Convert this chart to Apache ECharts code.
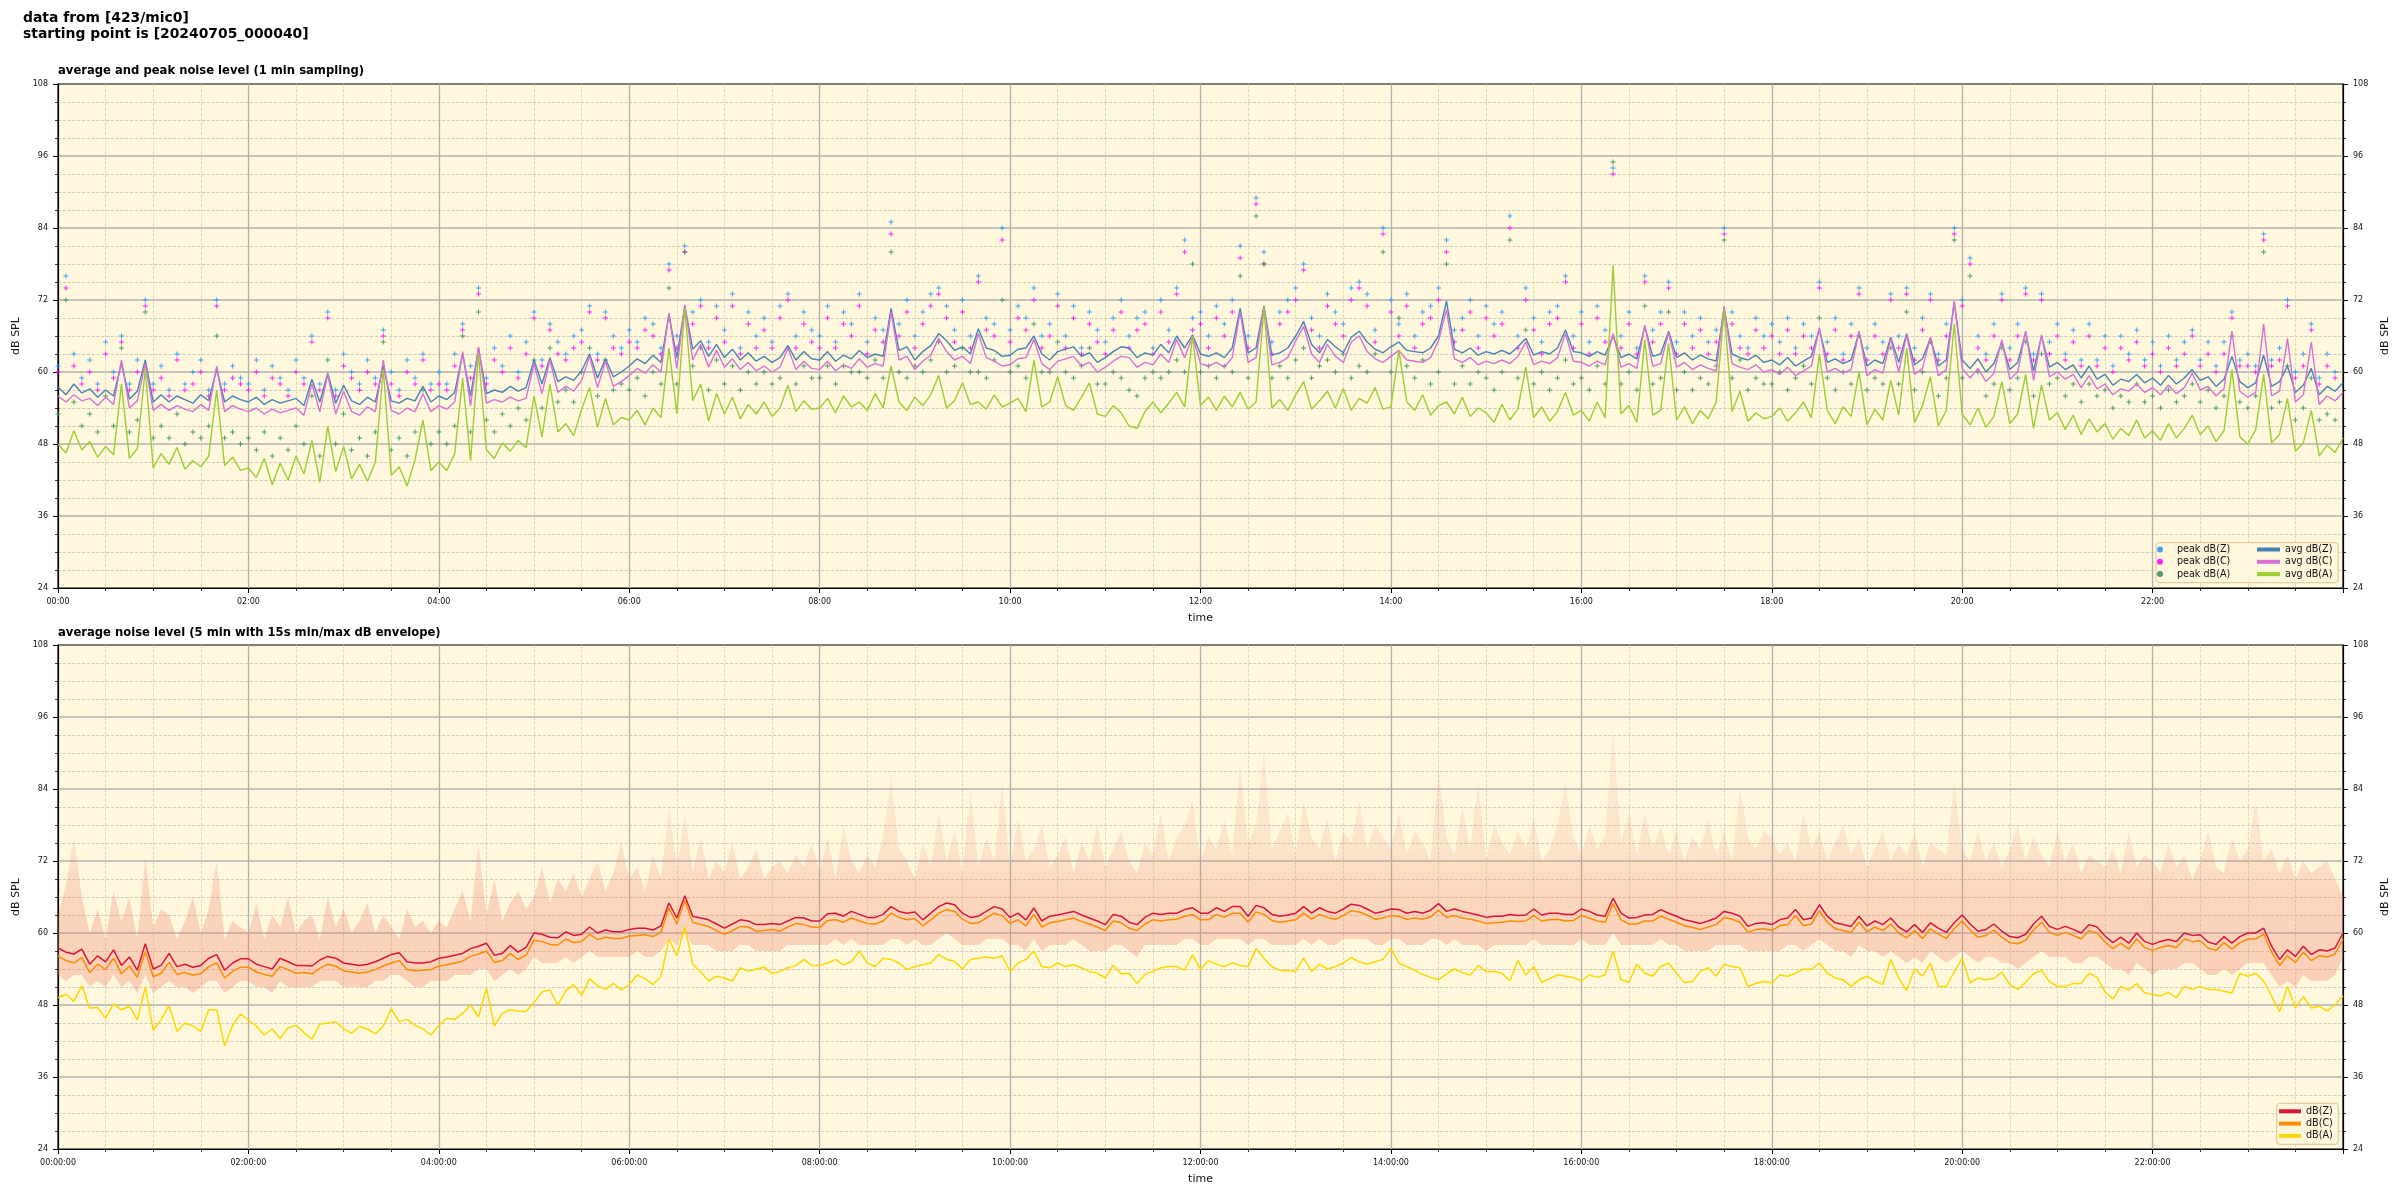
<!DOCTYPE html>
<html><head><meta charset="utf-8">
<script src="https://cdn.jsdelivr.net/npm/echarts/dist/echarts.min.js"></script>
<style>html,body{margin:0;padding:0;background:#fff}#c{width:2400px;height:1200px}</style>
</head><body><div id="c"></div><script>
// ---------- labels ----------
const STEP = 5; // minutes between samples
const topTimeLabels = ['00:00','02:00','04:00','06:00','08:00','10:00','12:00','14:00','16:00','18:00','20:00','22:00'];
const botTimeLabels = ['00:00:00','02:00:00','04:00:00','06:00:00','08:00:00','10:00:00','12:00:00','14:00:00','16:00:00','18:00:00','20:00:00','22:00:00'];
const yTicks = [24,36,48,60,72,84,96,108];

// ---------- top chart: 1-min average (sampled every 5 min) ----------
const avgZ = [
57.5,56.2,58.0,56.5,57.2,55.8,57.0,56.0,61.5,55.5,56.8,62.0,55.0,56.2,55.0,56.0,55.4,54.8,56.2,55.2,60.5,55.0,56.0,55.4,
55.0,55.8,54.6,55.4,54.8,55.2,55.6,54.4,58.8,55.0,59.8,54.8,57.8,55.2,54.6,55.8,55.0,61.0,55.2,54.8,55.6,55.2,57.6,55.0,
56.0,55.4,56.6,63.0,56.0,64.0,56.4,57.0,56.6,57.6,56.8,57.4,62.0,58.0,62.4,58.4,59.2,58.6,60.2,63.0,59.0,62.2,59.2,60.0,
61.0,62.2,61.4,62.8,61.6,69.6,62.4,71.0,63.8,65.2,62.6,64.6,62.4,63.8,62.0,63.2,61.8,62.6,61.6,62.4,64.4,62.0,63.4,62.2,
62.0,63.4,61.8,62.8,62.2,63.6,62.4,63.0,62.6,70.6,63.6,64.2,62.0,63.4,64.4,66.4,65.2,63.6,64.2,63.0,67.2,64.0,63.6,62.6,
62.8,63.8,64.0,66.0,63.0,62.0,63.4,63.8,64.2,62.6,63.2,61.6,62.4,63.4,64.2,64.0,62.4,63.2,62.8,64.6,63.2,66.0,64.0,66.2,
63.0,62.6,63.2,62.4,64.0,70.6,63.2,64.0,71.0,62.8,63.2,64.0,66.0,68.4,64.6,63.2,65.4,64.2,63.2,65.8,66.8,65.0,63.8,63.2,
64.2,65.0,63.6,63.4,63.2,64.0,66.0,71.8,63.8,63.2,64.0,62.8,63.4,63.0,63.6,63.0,64.2,65.6,62.8,63.4,63.0,64.0,67.0,63.4,
63.2,62.6,63.4,62.8,66.0,62.4,63.0,62.2,67.6,62.6,63.0,66.8,62.4,63.2,62.0,62.8,62.2,61.8,70.6,63.0,62.4,62.0,62.8,61.6,
62.0,61.2,62.4,61.0,61.8,62.6,67.2,61.6,62.2,61.4,62.0,66.6,61.0,62.0,61.4,65.8,61.6,66.4,61.2,62.2,65.6,61.0,62.0,71.6,
62.0,60.6,62.2,60.0,61.4,65.0,60.4,61.6,66.6,60.2,66.0,60.8,61.6,60.4,61.2,59.0,61.0,58.8,59.6,57.8,58.8,58.4,59.6,58.2,
59.0,57.8,59.4,58.0,59.0,60.4,58.6,59.2,57.6,58.8,62.6,58.4,57.4,58.2,62.8,57.6,58.4,61.0,56.6,57.8,60.6,56.2,57.6,56.8,58.2];
const avgC = [
56.0,55.0,56.2,55.2,55.6,54.4,55.8,54.6,62.0,54.0,55.2,61.4,53.6,54.6,53.6,54.4,53.8,53.4,54.6,53.6,61.0,53.4,54.4,53.8,
53.4,54.0,53.0,53.8,53.2,53.6,54.0,52.8,58.0,53.4,59.6,53.0,56.8,53.4,52.8,54.2,53.4,62.0,53.6,53.0,54.0,53.4,56.4,53.4,
54.4,53.8,55.0,63.4,54.4,64.2,54.8,55.4,55.0,55.8,55.2,55.6,61.4,56.4,62.0,56.6,57.6,56.8,58.6,62.6,57.4,61.8,57.6,58.4,
59.4,60.6,59.8,61.2,60.0,69.8,60.6,71.2,62.0,64.6,60.8,63.6,60.8,62.2,60.4,61.6,60.2,61.0,60.0,60.8,64.0,60.4,61.8,60.6,
60.4,61.8,60.2,61.2,60.6,62.2,60.8,61.4,61.0,70.0,62.0,62.6,60.4,61.8,62.8,65.6,63.4,62.0,62.6,61.4,66.4,62.4,61.8,61.0,
61.2,62.2,62.4,65.4,61.4,60.4,61.8,62.2,62.6,61.0,61.6,60.0,60.8,61.8,62.6,62.4,60.8,61.6,61.2,63.0,61.6,65.4,62.4,66.0,
61.4,61.0,61.6,60.8,62.4,70.0,61.6,62.4,70.8,61.2,61.6,62.4,65.2,67.6,63.0,61.6,64.6,62.6,61.6,65.0,66.0,63.4,62.2,61.6,
62.6,63.6,62.0,61.8,61.6,62.4,65.2,70.4,62.2,61.6,62.4,61.2,61.8,61.4,62.0,61.4,62.6,65.0,61.2,61.8,61.4,62.4,66.4,61.8,
61.6,61.0,61.8,61.2,66.4,60.8,61.4,60.6,67.8,61.0,61.4,66.6,60.8,61.6,60.4,61.2,60.6,60.2,71.0,61.4,60.8,60.4,61.2,60.0,
60.4,59.6,60.8,59.4,60.2,61.0,67.4,60.0,60.6,59.8,60.4,66.8,59.4,60.4,59.8,65.6,60.0,66.2,59.6,60.6,65.8,59.4,60.4,71.8,
60.6,59.0,60.6,58.4,59.8,65.4,58.8,60.0,66.8,58.6,66.2,59.2,60.0,58.8,59.6,57.4,59.4,57.2,58.0,56.2,57.2,56.8,58.0,56.6,
57.4,56.2,57.8,56.4,57.4,59.8,57.0,57.6,56.0,57.2,66.8,56.8,55.8,56.6,68.0,56.0,56.8,65.6,55.0,56.2,65.0,54.6,56.0,55.2,56.6];
const avgA = [
48.0,46.5,50.2,47.0,48.4,45.8,47.6,46.2,58.0,45.6,47.2,60.5,44.0,46.4,44.6,47.4,43.8,45.2,44.2,46.0,57.0,44.4,45.8,43.6,
44.0,42.4,45.6,41.2,44.8,42.0,46.0,43.0,48.6,41.6,51.0,43.4,47.6,42.2,44.6,41.8,45.0,60.5,42.8,44.2,41.0,45.4,52.0,43.6,
45.0,43.6,46.4,59.0,45.2,63.0,47.0,45.6,48.2,46.8,48.6,47.4,56.0,49.2,58.0,50.0,51.4,49.4,53.8,57.4,50.8,55.6,51.2,52.4,
52.0,53.6,51.2,54.0,52.4,64.0,53.0,70.6,55.2,58.0,51.8,56.4,53.0,55.8,52.2,54.6,53.0,55.0,52.6,54.0,57.8,53.4,55.2,53.8,
54.0,55.6,53.2,56.0,54.2,55.0,53.6,56.4,54.0,61.0,55.0,53.6,55.8,54.4,56.2,59.4,54.0,55.2,58.2,54.6,55.0,53.8,56.2,54.2,
54.8,55.6,53.4,62.0,54.2,55.0,59.2,54.4,53.6,55.8,58.2,53.0,52.6,54.4,53.2,51.0,50.6,53.4,55.0,53.2,54.8,56.6,54.2,66.0,
54.4,55.8,53.6,56.0,54.2,56.6,53.8,55.0,70.6,54.0,55.4,53.6,56.2,58.4,53.8,55.2,56.8,54.0,57.2,53.6,55.6,54.8,57.4,53.8,
54.2,63.6,55.0,53.6,56.2,52.8,54.4,55.0,53.0,55.8,52.6,54.0,53.2,51.6,54.6,52.0,53.8,60.8,52.4,54.2,51.8,53.4,56.6,52.8,
53.6,51.8,55.0,52.4,77.8,53.0,54.4,51.6,65.4,52.8,53.6,64.8,52.0,54.2,51.4,53.6,52.2,55.0,70.4,53.4,56.8,51.8,53.2,52.2,
52.6,54.0,51.8,53.2,55.0,52.4,63.0,53.6,51.4,54.2,52.6,60.0,51.2,53.8,52.0,58.6,52.8,64.0,51.6,54.4,59.2,51.0,53.6,68.0,
53.0,51.2,54.0,50.8,52.6,58.4,51.4,53.0,59.6,50.6,57.8,52.0,53.2,50.4,52.8,49.6,52.2,50.0,51.4,48.8,50.6,49.4,52.0,49.0,
50.2,48.6,51.4,49.0,50.6,52.8,49.6,51.0,48.4,50.2,60.4,49.2,48.0,50.4,59.6,48.2,49.6,55.6,46.8,48.2,53.6,46.0,47.8,46.6,49.0];

// ---------- top chart: peak levels ----------
const peakZ = [
61,76,63,59,62,58,65,60,66,58,62,72,58,61,57,63,58,60,62,57,72,58,61,59,
58,62,57,61,59,57,62,59,66,58,70,57,63,60,58,62,59,67,60,57,62,59,63,58,
60,58,63,68,61,74,59,64,61,66,60,65,70,62,68,65,63,66,67,71,63,70,66,64,
67,65,69,68,64,78,66,81,70,72,65,71,67,73,64,70,66,69,65,71,73,66,70,67,
66,71,65,70,68,73,65,69,67,85,68,72,66,70,73,74,71,67,72,66,76,69,68,84,
67,71,69,74,66,68,73,66,71,64,70,67,65,69,72,66,69,70,64,72,67,74,82,69,
70,66,71,68,72,81,66,89,80,65,70,72,74,78,69,66,73,70,68,74,75,73,67,84,
72,68,73,66,70,71,74,82,67,69,72,66,71,68,70,86,66,74,69,65,70,71,76,66,
70,65,71,67,94,66,70,64,76,67,70,75,65,70,66,69,65,67,84,70,66,64,69,66,
68,65,69,64,68,66,75,65,69,63,68,74,64,68,65,73,66,74,64,69,73,63,68,84,
72,79,66,63,68,73,64,68,74,63,73,65,68,63,67,62,68,62,66,61,66,63,67,62,
65,61,66,62,65,67,62,65,61,65,70,62,63,61,83,62,64,72,60,63,68,59,63,60];
const peakC = [
60,74,61,58,60,57,63,59,65,57,60,71,57,59,56,62,57,58,60,56,71,57,59,58,
57,60,56,59,58,56,60,58,65,57,69,56,61,59,57,60,58,66,58,56,60,58,62,57,
58,57,61,67,59,73,58,62,60,64,59,63,69,61,67,63,62,64,65,70,62,69,64,63,
65,64,67,66,63,77,64,80,68,71,64,69,65,71,63,68,64,67,64,69,72,64,68,65,
64,69,64,68,66,71,63,67,65,83,66,70,64,68,71,73,69,65,70,64,75,67,66,82,
65,69,67,72,64,66,71,64,69,63,68,65,63,67,70,64,67,68,63,70,65,73,80,67,
68,64,69,66,70,79,64,88,78,63,68,70,72,77,67,64,71,68,66,72,74,71,65,83,
70,66,71,64,68,69,72,80,65,67,70,64,69,66,68,84,64,72,67,63,68,69,75,64,
68,63,69,65,93,64,68,63,75,65,68,74,63,68,64,67,63,65,83,68,64,63,67,64,
66,63,67,63,66,64,74,63,67,62,66,73,62,66,63,72,64,73,62,67,72,62,66,83,
71,78,64,62,66,72,62,66,73,62,72,63,66,62,65,61,66,61,64,60,64,62,65,61,
63,60,64,61,63,66,61,63,60,63,69,61,61,60,82,61,62,71,59,61,67,58,61,59];
const peakA = [
53,72,55,51,53,50,56,51,64,50,52,70,49,51,49,53,48,50,49,51,66,49,50,48,
49,47,50,46,49,47,51,48,56,46,62,48,53,47,49,46,50,65,47,49,46,50,57,48,
50,48,51,66,50,70,52,50,53,51,54,52,62,54,64,55,57,55,60,64,56,62,57,58,
57,59,56,60,58,74,58,80,61,64,57,62,58,61,57,60,58,60,58,59,64,58,61,59,
59,61,58,61,60,60,59,62,59,80,60,59,61,60,62,65,60,61,64,60,60,59,62,72,
60,61,59,68,60,60,65,60,59,61,64,58,58,60,59,57,56,59,60,59,60,62,60,78,
60,61,59,61,60,76,59,86,78,59,61,59,62,64,59,61,62,60,63,59,61,60,63,80,
60,69,61,59,62,58,60,78,58,61,58,60,59,57,60,82,59,67,58,60,57,59,62,58,
59,57,61,58,95,58,60,57,71,58,59,70,57,60,57,59,58,61,82,59,62,57,59,58,
58,60,57,59,61,58,69,59,57,60,58,66,57,59,58,64,58,70,57,60,65,56,59,82,
59,76,60,56,58,64,57,59,65,56,63,58,59,56,58,55,58,56,57,54,56,55,58,55,
56,54,57,55,56,58,55,57,54,56,66,55,54,56,80,54,55,61,52,54,59,52,53,52];

// ---------- bottom chart: 5-min averages ----------
const lvlZ = [
57.5,56.8,56.5,57.3,54.8,56.2,55.2,57.2,54.6,56.0,53.8,58.2,54.0,54.6,56.6,54.4,54.8,54.3,54.6,55.8,56.4,53.8,55.0,55.7,
55.7,54.8,54.4,54.0,55.8,55.2,54.6,54.6,54.5,55.5,56.1,55.8,55.0,54.8,54.6,54.8,55.2,55.8,56.4,56.7,55.2,55.0,55.0,55.2,
55.8,56.0,56.3,56.6,57.4,57.8,58.3,56.3,56.6,57.9,56.8,57.6,60.0,59.8,59.3,59.2,60.2,59.6,59.8,61.0,60.0,60.5,60.2,60.2,
60.6,60.8,60.8,60.5,61.2,65.0,62.5,66.2,62.8,62.5,62.2,61.5,60.8,61.5,62.2,62.0,61.4,61.4,61.6,61.4,62.0,62.6,62.5,62.0,
62.0,63.2,63.3,62.8,63.6,63.1,62.6,62.6,63.1,64.4,63.6,63.3,63.5,62.2,63.3,64.4,65.0,64.7,63.3,62.6,62.8,63.6,64.4,64.0,
62.6,63.3,62.2,64.2,62.0,62.8,63.0,63.3,63.6,63.0,62.5,62.0,61.4,63.1,62.8,61.8,61.4,62.6,63.3,63.1,63.3,63.3,63.9,64.2,
63.3,63.3,64.2,63.6,64.4,64.4,62.8,64.6,64.2,63.1,62.8,63.0,63.3,64.4,63.3,64.2,63.6,63.3,64.0,64.8,64.6,64.0,63.3,63.6,
64.0,63.9,63.3,63.6,63.3,63.8,64.9,63.6,64.0,63.6,63.3,63.0,62.6,62.8,62.8,63.1,62.9,63.0,64.0,63.0,63.3,63.3,63.1,63.1,
64.0,63.6,63.0,62.8,65.8,63.3,62.5,62.6,63.0,63.1,63.9,63.3,62.8,62.2,61.9,61.6,62.0,62.5,63.6,63.3,62.8,61.1,61.6,61.7,
61.4,62.2,62.5,63.9,62.2,62.5,64.7,62.8,61.7,61.4,61.1,62.8,61.2,62.0,61.4,62.5,61.0,60.2,61.4,60.1,61.7,60.8,60.1,61.7,
63.0,61.5,60.3,60.6,61.5,60.3,59.4,59.2,59.8,61.5,62.8,61.1,60.6,61.1,60.6,60.0,61.4,61.0,59.5,58.4,59.3,58.3,60.0,58.6,
58.1,58.6,58.9,58.6,60.0,59.6,59.7,58.5,58.1,59.4,58.3,59.4,60.0,60.0,60.8,57.8,55.6,57.2,56.1,57.8,56.4,57.2,57.0,57.5,60.0];
const lvlC = [
56.2,55.4,55.0,55.9,53.4,54.8,53.9,55.8,53.2,54.5,52.6,56.9,52.7,53.3,55.1,53.1,53.4,53.0,53.2,54.4,55.0,52.5,53.6,54.3,
54.3,53.5,53.1,52.8,54.4,53.9,53.3,53.4,53.2,54.1,54.8,54.5,53.7,53.5,53.3,53.5,53.9,54.5,55.0,55.4,53.9,53.7,53.8,53.9,
54.5,54.7,55.0,55.3,56.1,56.5,57.0,55.1,55.4,56.6,55.6,56.3,58.8,58.6,58.1,58.0,59.0,58.4,58.6,59.8,58.9,59.3,59.1,59.1,
59.5,59.6,59.7,59.4,60.1,64.2,61.5,65.4,61.8,61.4,61.1,60.4,59.8,60.4,61.1,61.0,60.3,60.4,60.6,60.3,61.0,61.6,61.4,61.0,
60.9,62.1,62.2,61.8,62.5,62.0,61.6,61.5,62.0,63.3,62.6,62.2,62.4,61.2,62.2,63.3,63.9,63.6,62.3,61.6,61.7,62.5,63.3,62.9,
61.6,62.2,61.2,63.1,61.0,61.7,61.9,62.2,62.5,61.9,61.5,61.0,60.4,62.0,61.7,60.8,60.4,61.5,62.2,62.0,62.2,62.3,62.8,63.1,
62.2,62.2,63.1,62.6,63.3,63.3,61.8,63.5,63.1,62.1,61.8,62.0,62.2,63.3,62.3,63.1,62.6,62.3,62.9,63.7,63.5,63.0,62.3,62.5,
62.9,62.8,62.3,62.5,62.3,62.7,63.8,62.6,62.9,62.5,62.3,62.0,61.6,61.7,61.8,62.0,61.9,62.0,62.9,62.0,62.2,62.3,62.0,62.1,
62.9,62.5,62.0,61.8,64.9,62.2,61.5,61.5,62.0,62.0,62.8,62.3,61.8,61.2,60.9,60.6,61.0,61.4,62.6,62.3,61.8,60.1,60.6,60.7,
60.4,61.2,61.4,62.9,61.2,61.5,63.7,61.8,60.7,60.4,60.1,61.8,60.2,61.0,60.4,61.5,60.0,59.2,60.4,59.1,60.7,59.8,59.1,60.7,
62.0,60.5,59.3,59.6,60.5,59.3,58.4,58.2,58.8,60.5,61.8,60.1,59.6,60.1,59.6,59.0,60.4,60.0,58.5,57.4,58.3,57.3,59.0,57.6,
57.1,57.6,57.9,57.6,59.0,58.6,58.7,57.5,57.1,58.4,57.3,58.4,59.0,59.0,59.8,56.8,54.6,56.2,55.1,56.8,55.4,56.2,56.0,56.5,59.0];
const lvlA = [
49.2,49.8,48.6,51.2,47.5,47.6,45.8,48.2,47.2,47.8,45.5,51.0,43.8,45.6,47.9,43.6,45.0,44.5,43.6,47.2,47.2,41.2,44.6,46.5,
45.5,44.5,43.0,44.0,42.4,44.2,44.6,43.4,42.3,44.8,45.0,45.2,44.0,43.3,44.4,44.0,43.2,44.5,47.4,45.2,45.6,44.6,44.0,43.0,
44.6,45.8,45.6,46.6,48.0,46.0,50.8,44.5,46.6,47.2,47.0,46.9,48.4,50.2,50.5,48.0,50.4,51.4,49.6,52.4,51.2,50.6,51.6,50.5,
51.4,53.0,52.4,51.4,52.8,59.0,56.2,61.0,54.8,53.5,52.0,52.8,52.5,52.0,54.2,53.6,54.0,54.3,53.2,53.6,54.2,54.6,55.6,54.6,
54.6,55.0,55.6,54.7,55.2,57.0,55.0,54.4,55.8,55.6,55.0,53.9,54.4,54.7,55.0,56.4,55.6,55.3,54.0,55.6,55.8,56.0,55.8,56.2,
53.6,55.0,55.6,57.0,54.4,54.2,55.0,54.4,54.7,54.2,53.6,53.3,52.5,54.6,53.2,53.3,51.6,53.1,53.6,54.2,54.4,54.4,53.8,56.4,
53.9,55.4,54.8,54.4,55.0,54.6,54.4,57.4,55.8,54.4,53.8,53.7,53.6,55.8,53.6,54.8,54.0,54.4,55.0,55.9,55.2,54.8,55.2,55.6,
57.4,55.0,54.4,53.8,53.1,52.6,52.2,53.2,54.0,53.4,53.0,54.6,53.6,53.6,53.3,52.0,55.4,53.0,54.4,51.8,52.4,53.0,52.8,52.6,
52.0,53.0,52.6,53.0,57.0,52.2,51.8,54.8,53.3,52.8,54.4,55.0,53.3,51.7,51.9,53.6,54.2,52.8,54.8,54.4,54.2,51.1,51.6,51.9,
51.7,53.0,52.8,53.3,54.0,53.9,55.0,53.3,52.5,52.2,51.1,52.2,52.8,52.0,51.4,55.6,52.5,50.4,54.0,52.8,55.0,51.1,51.1,53.5,
55.8,51.7,52.5,52.2,52.4,53.5,51.4,50.6,51.8,53.2,53.8,51.9,51.1,51.1,51.6,51.6,53.3,52.6,50.2,49.0,51.1,50.5,51.6,50.0,
49.8,49.5,50.1,49.2,51.1,50.6,51.1,50.6,50.6,50.3,50.0,53.3,52.8,53.3,52.0,49.5,46.9,51.1,47.5,49.4,47.5,47.8,47.0,48.0,49.5];

// ---------- bottom chart: 15 s min/max envelope ----------
const envMin = [
53,52,53,53,51,52,51,53,51,52,50,53,50,51,52,51,51,50,51,52,52,50,51,52,
52,51,51,50,52,51,51,51,51,52,52,52,51,51,51,51,52,52,53,53,52,51,51,52,
52,52,53,53,53,54,54,52,53,54,53,54,56,55,55,55,56,55,56,57,56,56,56,56,
56,57,56,56,57,59,58,60,58,58,58,57,57,57,58,58,57,57,57,57,58,58,58,58,
58,58,59,58,59,58,58,58,58,59,59,58,59,58,58,59,60,59,58,58,58,59,59,59,
58,58,57,59,57,58,58,58,59,58,57,57,57,58,58,57,56,58,58,58,58,58,59,59,
58,58,59,59,59,59,58,59,59,58,58,58,58,59,58,59,58,58,59,59,59,59,58,58,
59,59,58,58,58,59,59,58,59,58,58,58,57,58,58,58,58,58,59,58,58,58,58,58,
59,58,58,58,60,58,58,58,58,58,59,58,58,57,57,57,57,58,58,58,58,57,57,57,
57,57,58,58,57,58,59,58,57,57,56,58,57,57,56,57,56,55,56,55,57,56,55,56,
57,56,55,56,56,55,55,54,55,56,57,56,56,56,55,55,56,56,55,54,54,53,55,54,
53,54,54,54,55,55,54,53,53,54,53,54,55,55,55,53,51,52,51,53,52,52,52,53,56];
const envMax = [
63,68,76,66,60,64,59,67,62,66,59,73,61,64,63,59,62,66,60,64,72,59,62,61,
60,65,59,63,61,66,60,62,63,59,66,61,64,60,62,65,60,63,61,59,64,61,62,60,
62,61,64,67,62,75,63,69,62,65,67,64,66,71,65,69,67,70,66,69,72,67,70,75,
69,71,67,73,69,81,71,80,70,76,69,72,70,75,69,71,74,69,71,72,70,73,71,75,
70,76,69,78,72,70,73,71,76,86,74,72,69,75,71,80,72,77,70,84,71,76,72,85,
71,79,72,74,78,71,73,76,70,75,72,78,71,74,77,72,70,75,73,80,72,76,78,82,
72,76,74,79,73,88,75,78,90,74,77,80,73,82,76,74,79,72,77,75,82,74,78,76,
74,80,73,77,75,72,87,76,73,81,74,85,72,78,75,73,77,74,79,72,74,78,85,76,
73,78,74,76,94,75,80,73,80,74,78,73,77,72,76,74,79,73,77,72,84,76,74,77,
76,73,75,72,80,74,77,72,75,78,73,76,71,74,77,72,75,73,77,71,75,74,73,85,
74,72,77,72,75,71,74,78,72,76,73,71,77,72,75,70,73,72,71,74,70,77,71,73,
72,70,75,71,73,69,72,77,71,70,76,72,74,82,72,74,70,73,69,72,70,71,72,69,66];

// ---------- build ----------
function pts(a){ return a.map((v,i)=>[i*STEP, v]); }
const FONT = 'DejaVu Sans';
const PLUS = 'path://M2,0H3V2H5V3H3V5H2V3H0V2H2Z';
const TXT = '#111';

function xAxis(gi, labels){
  return {type:'value', gridIndex:gi, min:0, max:1440, interval:120,
    axisLine:{show:true, lineStyle:{color:'#000', width:1.2}},
    axisTick:{show:true, length:5, lineStyle:{color:'#000', width:1}},
    minorTick:{show:true, splitNumber:4, length:3, lineStyle:{color:'#000', width:0.8}},
    axisLabel:{margin:10, fontSize:8, color:TXT, fontFamily:FONT,
      formatter:v=>labels[Math.round(v/120)]||''},
    splitLine:{show:true, showMinLine:false, showMaxLine:false, lineStyle:{color:'#b0b0b0', width:1.3}},
    minorSplitLine:{show:true, lineStyle:{color:'#d6cfb8', width:0.8, type:'dashed'}},
    name:'time', nameLocation:'middle', nameGap:25,
    nameTextStyle:{fontSize:11, color:TXT, fontFamily:FONT}};
}
function yAxis(gi, side){
  const left = side==='left';
  return {type:'value', gridIndex:gi, position:side, min:yTicks[0], max:yTicks[yTicks.length-1], interval:12,
    axisLine:{show:true, lineStyle:{color:'#000', width:1.2}},
    axisTick:{show:true, length:5, lineStyle:{color:'#000', width:1}},
    minorTick:{show:true, splitNumber:4, length:3, lineStyle:{color:'#000', width:0.8}},
    axisLabel:{margin:10, fontSize:8, color:TXT, fontFamily:FONT},
    splitLine:{show:left, showMinLine:false, showMaxLine:false, lineStyle:{color:'#b0b0b0', width:1.5}},
    minorSplitLine:{show:left, lineStyle:{color:'#c2c0b8', width:0.8, type:'dashed'}},
    name:'dB SPL', nameLocation:'middle', nameRotate:90, nameGap:left?31:30,
    nameTextStyle:{fontSize:11, color:TXT, fontFamily:FONT}};
}
const gridBase = {show:true, backgroundColor:'#fff8dc', borderColor:'#000', borderWidth:1.2,
  left:58, width:2285, height:504, containLabel:false, outerBoundsMode:'none'};

const legText = {fontSize:9.6, lineHeight:12, color:TXT, fontFamily:FONT};
const envFill = new echarts.graphic.LinearGradient(0, 0, 0, 1, [
  {offset:0, color:'rgba(240,125,105,0.10)'},
  {offset:0.45, color:'rgba(240,125,105,0.16)'},
  {offset:0.62, color:'rgba(240,125,105,0.27)'},
  {offset:1, color:'rgba(240,125,105,0.33)'}]);

// envelope band drawn as one polygon through the axis scales
function renderEnvelope(params, api){
  if (params.dataIndex !== 0) return null;
  const upper = envMax.map((v,i)=>api.coord([i*STEP, v]));
  const lower = envMin.map((v,i)=>api.coord([i*STEP, v])).reverse();
  return {type:'polygon', shape:{points:upper.concat(lower)}, style:{fill:envFill}, silent:true};
}

const option = {
  animation:false,
  backgroundColor:'#ffffff',
  title:[
    {text:'data from [423/mic0]\nstarting point is [20240705_000040]', left:23, top:10, padding:0,
     textStyle:{fontSize:13.9, fontWeight:'bold', lineHeight:16.5, color:'#000', fontFamily:FONT}},
    {text:'average and peak noise level (1 min sampling)', left:58, top:63.7, padding:0,
     textStyle:{fontSize:11.6, fontWeight:'bold', lineHeight:14, color:'#000', fontFamily:FONT}},
    {text:'average noise level (5 min with 15s min/max dB envelope)', left:58, top:626.3, padding:0,
     textStyle:{fontSize:11.6, fontWeight:'bold', lineHeight:14, color:'#000', fontFamily:FONT}}
  ],
  grid:[Object.assign({top:84}, gridBase), Object.assign({top:645}, gridBase)],
  xAxis:[xAxis(0, topTimeLabels), xAxis(1, botTimeLabels)],
  yAxis:[yAxis(0,'left'), yAxis(0,'right'), yAxis(1,'left'), yAxis(1,'right')],
  legend:[
    {data:[{name:'peak dB(Z)',icon:'circle'},{name:'peak dB(C)',icon:'circle'},{name:'peak dB(A)',icon:'circle'}],
     orient:'vertical', left:2157, top:543.5, itemWidth:24, itemHeight:6, itemGap:0.3, padding:0,
     textStyle:legText, selectedMode:false, z:20},
    {data:[{name:'avg dB(Z)',icon:'rect'},{name:'avg dB(C)',icon:'rect'},{name:'avg dB(A)',icon:'rect'}],
     orient:'vertical', left:2257, top:543.5, itemWidth:23, itemHeight:4, itemGap:0.3, padding:0,
     textStyle:legText, selectedMode:false, z:20},
    {data:[{name:'dB(Z)',icon:'rect'},{name:'dB(C)',icon:'rect'},{name:'dB(A)',icon:'rect'}],
     orient:'vertical', left:2279, top:1105.3, itemWidth:22, itemHeight:4, itemGap:0.3, padding:0,
     textStyle:legText, selectedMode:false, z:20}
  ],
  graphic:[
    {type:'rect', z:15, shape:{x:2156, y:542.7, width:182, height:40, r:3},
     style:{fill:'rgba(255,248,220,0.85)', stroke:'#dcc49a', lineWidth:1}},
    {type:'rect', z:15, shape:{x:2276.7, y:1103.3, width:61.6, height:41, r:3},
     style:{fill:'rgba(255,248,220,0.85)', stroke:'#dcc49a', lineWidth:1}}
  ],
  series:[
    {name:'peak dB(Z)', type:'scatter', xAxisIndex:0, yAxisIndex:0, data:pts(peakZ), symbol:PLUS, symbolSize:5,
     itemStyle:{color:'#1e90ff', opacity:0.85}, silent:true},
    {name:'peak dB(C)', type:'scatter', xAxisIndex:0, yAxisIndex:0, data:pts(peakC), symbol:PLUS, symbolSize:5,
     itemStyle:{color:'#ff00ff', opacity:0.85}, silent:true},
    {name:'peak dB(A)', type:'scatter', xAxisIndex:0, yAxisIndex:0, data:pts(peakA), symbol:PLUS, symbolSize:5,
     itemStyle:{color:'#2e8b57', opacity:0.85}, silent:true},
    {name:'avg dB(Z)', type:'line', xAxisIndex:0, yAxisIndex:0, data:pts(avgZ), symbol:'none',
     lineStyle:{color:'#4682b4', width:1.4}, itemStyle:{color:'#4682b4'}, silent:true},
    {name:'avg dB(C)', type:'line', xAxisIndex:0, yAxisIndex:0, data:pts(avgC), symbol:'none',
     lineStyle:{color:'#da70d6', width:1.4}, itemStyle:{color:'#da70d6'}, silent:true},
    {name:'avg dB(A)', type:'line', xAxisIndex:0, yAxisIndex:0, data:pts(avgA), symbol:'none',
     lineStyle:{color:'#9acd32', width:1.4}, itemStyle:{color:'#9acd32'}, silent:true},

    {name:'envelope', type:'custom', xAxisIndex:1, yAxisIndex:2, clip:true, silent:true, z:1,
     data:envMax.map((v,i)=>[i*STEP, envMin[i], v]), encode:{x:0, y:[1,2]},
     renderItem:renderEnvelope},
    {name:'dB(Z)', type:'line', xAxisIndex:1, yAxisIndex:2, data:pts(lvlZ), symbol:'none',
     lineStyle:{color:'#dc143c', width:1.5}, itemStyle:{color:'#dc143c'}, silent:true},
    {name:'dB(C)', type:'line', xAxisIndex:1, yAxisIndex:2, data:pts(lvlC), symbol:'none',
     lineStyle:{color:'#ff8c00', width:1.5}, itemStyle:{color:'#ff8c00'}, silent:true},
    {name:'dB(A)', type:'line', xAxisIndex:1, yAxisIndex:2, data:pts(lvlA), symbol:'none',
     lineStyle:{color:'#ffd700', width:1.5}, itemStyle:{color:'#ffd700'}, silent:true}
  ]
};
const chart = echarts.init(document.getElementById('c'), null, {renderer:'canvas', width:2400, height:1200});
chart.setOption(option);
</script></body></html>
